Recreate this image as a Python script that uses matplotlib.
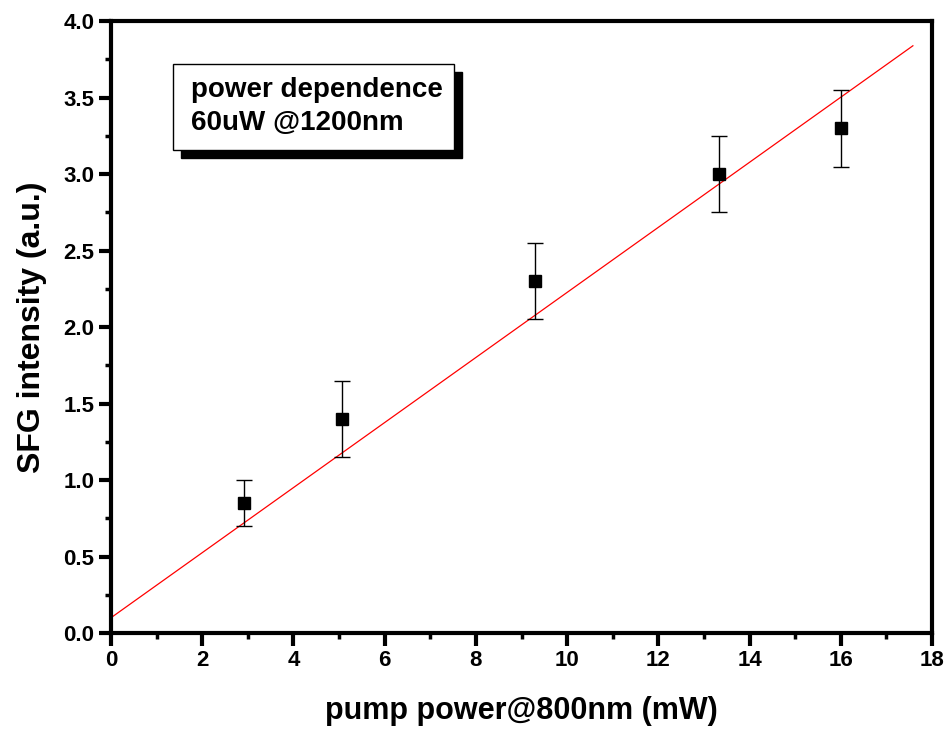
import matplotlib.pyplot as plt
from matplotlib.ticker import MultipleLocator
from matplotlib.patches import Rectangle

plt.rcParams['font.family'] = ['Liberation Sans', 'DejaVu Sans']
plt.rcParams['font.weight'] = 'bold'

pump_power = [2.92, 5.07, 9.3, 13.33, 16.0]
sfg_intensity = [0.85, 1.4, 2.3, 3.0, 3.3]
sfg_error = [0.15, 0.25, 0.25, 0.25, 0.25]
fit_x = [0.0, 17.58]
fit_slope = 0.2127
fit_intercept = 0.1

fig = plt.figure(figsize=(9.47, 7.31), dpi=100)
ax = fig.add_axes([0.1172, 0.134, 0.867, 0.837])

fit_y = [fit_intercept + fit_slope * x for x in fit_x]
ax.plot(fit_x, fit_y, color='red', linewidth=0.9)
ax.errorbar(pump_power, sfg_intensity, yerr=sfg_error, fmt='s', color='black',
            markersize=9, ecolor='black', elinewidth=1, capsize=6, capthick=1)

ax.set_xlim(0, 18)
ax.set_ylim(0, 4)
ax.xaxis.set_major_locator(MultipleLocator(2))
ax.xaxis.set_minor_locator(MultipleLocator(1))
ax.yaxis.set_major_locator(MultipleLocator(0.5))
ax.yaxis.set_minor_locator(MultipleLocator(0.25))
ax.yaxis.set_major_formatter(plt.FormatStrFormatter('%.1f'))

for s in ax.spines.values():
    s.set_linewidth(3)
ax.tick_params(which='major', direction='out', length=9, width=3, labelsize=16, pad=3)
ax.tick_params(which='minor', direction='out', length=4, width=2.5)
for lab in ax.get_xticklabels() + ax.get_yticklabels():
    lab.set_fontweight('bold')

ax.set_xlabel('pump power@800nm (mW)', fontsize=22, fontweight='bold', labelpad=18)
ax.set_ylabel('SFG intensity (a.u.)', fontsize=23, fontweight='bold', labelpad=12)

# text box with drop shadow
bx, by, bw, bh = 0.075, 0.79, 0.343, 0.14
ax.add_patch(Rectangle((bx + 0.01, by - 0.013), bw, bh, transform=ax.transAxes,
                       facecolor='black', edgecolor='black', zorder=4))
ax.add_patch(Rectangle((bx, by), bw, bh, transform=ax.transAxes,
                       facecolor='white', edgecolor='black', linewidth=1, zorder=5))
ax.text(bx + 0.022, by + bh / 2, 'power dependence\n60uW @1200nm', transform=ax.transAxes,
        fontsize=20, fontweight='bold', va='center', ha='left', multialignment='left',
        linespacing=1.35, zorder=6)

fig.savefig('out.png', dpi=100)
